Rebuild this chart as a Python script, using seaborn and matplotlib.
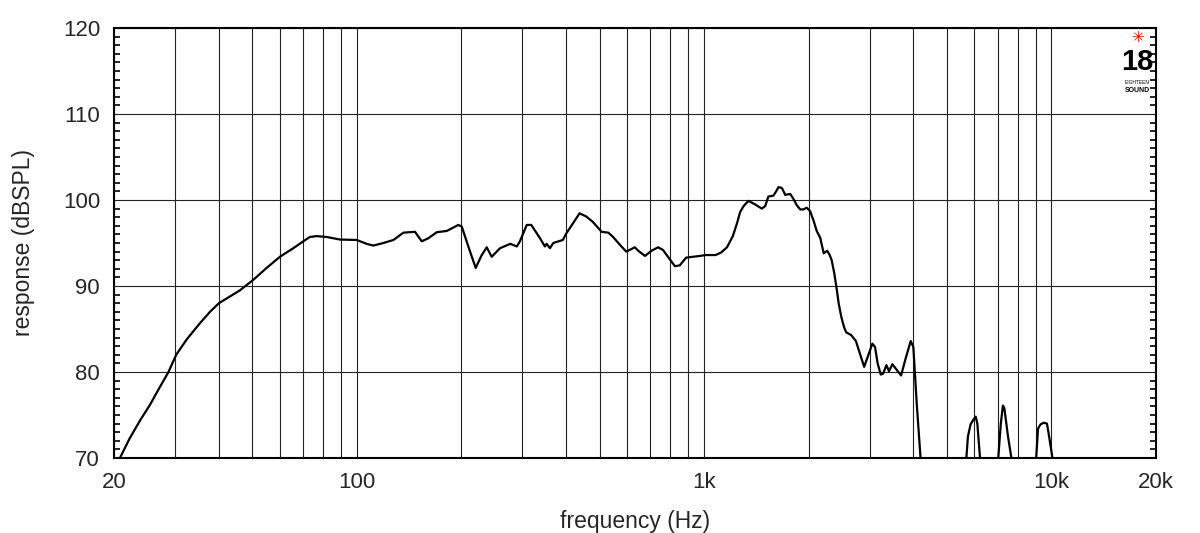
import numpy as np
import pandas as pd
import seaborn as sns
import matplotlib.pyplot as plt
from matplotlib.ticker import FixedLocator, LogLocator, MultipleLocator, NullFormatter

# frequency response (Hz, dBSPL); values under 70 are off the chart
freq = [20.8, 22.2, 23.8, 25.4, 26.8, 28.7, 30.2, 32.4, 35.4, 37.8, 40.1, 43.2, 46.1, 50.3,
        55.0, 60.1, 65.7, 70.2, 73.3, 76.7, 81.9, 89.5, 100, 106.8, 111.6, 119.3, 127.5,
        136.2, 147.1, 153.8, 160.7, 169.9, 181.6, 196.1, 200.6, 209.5, 220, 229, 236.7, 244.6,
        258.6, 276.7, 289, 295, 308.6, 318, 337, 348, 352, 360, 368, 392, 401, 438, 457, 477,
        507, 530, 547, 572, 597, 632, 646, 676, 706, 737, 761, 824, 851, 888, 975, 1010, 1080,
        1120, 1164, 1210, 1244, 1270, 1300, 1342, 1400, 1466, 1500, 1531, 1583, 1612, 1638,
        1675, 1712, 1770, 1810, 1848, 1892, 1931, 1975, 2020, 2070, 2110, 2160, 2210, 2262,
        2300, 2330, 2370, 2406, 2440, 2484, 2530, 2567, 2651, 2736, 2796, 2890, 2960, 3052,
        3106, 3160, 3226, 3276, 3349, 3408, 3484, 3580, 3692, 3800, 3935, 4004, 4100, 4200, 4300,
        5550, 5690, 5750, 5850, 5950, 6056, 6120, 6230, 6350,
        6950, 7030, 7150, 7250, 7320, 7500, 7670, 7780,
        8950, 9040, 9150, 9300, 9500, 9710, 9850, 10070, 10200]
spl = [70.0, 72.3, 74.4, 76.2, 77.9, 80.0, 82.0, 83.8, 85.7, 87.0, 88.0, 88.8, 89.5, 90.7,
       92.1, 93.4, 94.4, 95.2, 95.7, 95.8, 95.7, 95.4, 95.35, 94.9, 94.7, 95.0, 95.35,
       96.2, 96.3, 95.2, 95.55, 96.25, 96.4, 97.1, 96.9, 94.6, 92.1, 93.6, 94.5, 93.4,
       94.4, 94.9, 94.6, 95.2, 97.1, 97.1, 95.55, 94.6, 94.9, 94.4, 95.0, 95.35, 96.1, 98.45, 98.1, 97.5,
       96.3, 96.2, 95.7, 94.8, 94.0, 94.5, 94.1, 93.5, 94.1, 94.5, 94.2, 92.3, 92.4, 93.3, 93.5, 93.6, 93.6,
       93.9, 94.5, 95.8, 97.3, 98.6, 99.3, 99.9, 99.5, 99.0, 99.3, 100.4, 100.5, 101.0, 101.5,
       101.4, 100.6, 100.7, 100.1, 99.4, 98.9, 98.9, 99.1, 98.7, 97.5, 96.4, 95.6, 93.8, 94.1,
       93.6, 93.0, 91.5, 89.8, 88.0, 86.4, 85.2, 84.6, 84.3, 83.6, 82.4, 80.6, 81.8, 83.3,
       82.9, 81.0, 79.7, 79.8, 80.8, 80.1, 80.9, 80.3, 79.6, 81.5, 83.6, 82.9, 76.0, 70.0, 55.0,
       55.0, 70.0, 72.5, 73.9, 74.4, 74.8, 74.0, 70.0, 55.0,
       55.0, 70.0, 74.0, 76.1, 75.8, 72.5, 70.0, 55.0,
       55.0, 70.0, 73.4, 73.9, 74.1, 74.0, 72.5, 70.0, 55.0]

xtick_pos = [20, 100, 1000, 10000, 20000]
xtick_lab = ["20", "100", "1k", "10k", "20k"]
ytick_pos = [70, 80, 90, 100, 110, 120]

df = pd.DataFrame({"frequency": freq, "response": spl})

sns.set_style("white")
plt.rcParams["font.family"] = ["Liberation Sans", "DejaVu Sans"]

fig = plt.figure(figsize=(12, 5.33), dpi=100)
ax = fig.add_axes([0.095, 0.1407, 0.8683, 0.8068])

sns.lineplot(data=df, x="frequency", y="response", color="black", linewidth=1.6,
             sort=False, estimator=None, ax=ax)

ax.set_xscale("log")
ax.set_xlim(20, 20000)
ax.set_ylim(70, 120)

ax.xaxis.set_major_locator(FixedLocator(xtick_pos))
ax.set_xticklabels(xtick_lab)
ax.xaxis.set_minor_locator(LogLocator(base=10, subs=range(2, 10), numticks=20))
ax.xaxis.set_minor_formatter(NullFormatter())
ax.yaxis.set_major_locator(FixedLocator(ytick_pos))
ax.yaxis.set_minor_locator(MultipleLocator(1))

ax.grid(True, axis="x", which="both", color="#222222", linewidth=0.8)
ax.grid(True, axis="y", which="major", color="#222222", linewidth=0.8)

ax.tick_params(axis="x", which="both", length=0, pad=10, labelsize=16)
ax.tick_params(axis="y", which="both", direction="in", left=True, right=True, labelsize=16, pad=10)
ax.tick_params(axis="y", which="minor", length=4, width=1.2, color="black")
ax.tick_params(axis="y", which="major", length=0)

for s in ax.spines.values():
    s.set_color("black")
    s.set_linewidth(1.5)

ax.set_xlabel("frequency (Hz)", fontsize=16.5, labelpad=12)
ax.set_ylabel("response (dBSPL)", fontsize=16.5, labelpad=20)

# brand logo, top right
fig.text(1137 / 1200, 1 - 38 / 533, "\u2733", color="red", fontsize=11, ha="center", va="center",
         family=["DejaVu Sans"])
fig.text(1137 / 1200, 1 - 62 / 533, "18", color="black", fontsize=21, fontweight="bold",
         ha="center", va="center")
fig.text(1137 / 1200, 1 - 83 / 533, "EIGHTEEN", color="black", fontsize=3.5,
         ha="center", va="center")
fig.text(1137 / 1200, 1 - 90 / 533, "SOUND", color="black", fontsize=5, fontweight="bold",
         ha="center", va="center")

fig.savefig("out.png", dpi=100)
